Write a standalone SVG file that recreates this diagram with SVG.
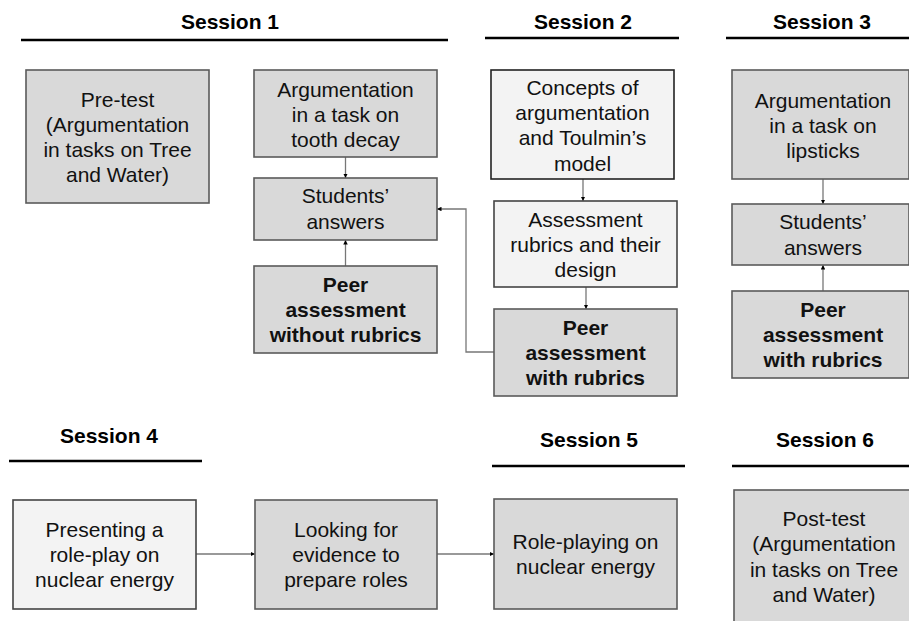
<svg xmlns="http://www.w3.org/2000/svg" width="909" height="621" viewBox="0 0 909 621">
<style>
.title{font-family:"Liberation Sans",Arial,sans-serif;font-size:21px;font-weight:bold;fill:#000;text-anchor:middle}
.t{font-family:"Liberation Sans",Arial,sans-serif;font-size:21px;fill:#111;text-anchor:middle}
.b{font-weight:bold}
.rule{stroke:#000;stroke-width:2.5}
.g{fill:#d9d9d9;stroke:#5a5a5a;stroke-width:1.6}
.l{fill:#f3f3f3;stroke:#444;stroke-width:1.6}
.c{fill:none;stroke:#777;stroke-width:1.3}
</style>
<defs>
<marker id="ah" viewBox="0 0 6 6" refX="6" refY="3" markerWidth="4.5" markerHeight="4.5" orient="auto" markerUnits="userSpaceOnUse">
<path d="M0,0 L6,3 L0,6 z" fill="#000"/>
</marker>
</defs>
<rect width="909" height="621" fill="#fff"/>
<g id="headers">
<text class="title" x="230" y="29">Session 1</text>
<line class="rule" x1="21" y1="40" x2="448" y2="40"/>
<text class="title" x="583" y="29">Session 2</text>
<line class="rule" x1="485" y1="38" x2="679" y2="38"/>
<text class="title" x="822" y="29">Session 3</text>
<line class="rule" x1="726" y1="38" x2="909" y2="38"/>
<text class="title" x="109" y="443">Session 4</text>
<line class="rule" x1="9" y1="461" x2="202" y2="461"/>
<text class="title" x="589" y="447">Session 5</text>
<line class="rule" x1="492" y1="466" x2="685" y2="466"/>
<text class="title" x="825" y="447">Session 6</text>
<line class="rule" x1="732" y1="466" x2="909" y2="466"/>
</g>
<g id="connectors">
<line class="c" x1="345.5" y1="157" x2="345.5" y2="178" marker-end="url(#ah)"/>
<line class="c" x1="345.5" y1="266" x2="345.5" y2="240" marker-end="url(#ah)"/>
<path class="c" d="M494,352 H466 V209 H437" marker-end="url(#ah)"/>
<line class="c" x1="583" y1="179" x2="583" y2="201" marker-end="url(#ah)"/>
<line class="c" x1="586" y1="287" x2="586" y2="309" marker-end="url(#ah)"/>
<line class="c" x1="823" y1="179" x2="823" y2="204" marker-end="url(#ah)"/>
<line class="c" x1="823" y1="291" x2="823" y2="265" marker-end="url(#ah)"/>
<line class="c" x1="196" y1="554" x2="255" y2="554" marker-end="url(#ah)"/>
<line class="c" x1="437" y1="554" x2="494" y2="554" marker-end="url(#ah)"/>
</g>
<g id="pretest">
<rect class="g" x="26" y="70" width="183" height="133"/>
<text class="t" x="117.5" y="107">Pre-test</text>
<text class="t" x="117.5" y="132">(Argumentation</text>
<text class="t" x="117.5" y="157">in tasks on Tree</text>
<text class="t" x="117.5" y="182">and Water)</text>
</g>
<g id="tooth">
<rect class="g" x="254" y="70" width="183" height="87"/>
<text class="t" x="345.5" y="97">Argumentation</text>
<text class="t" x="345.5" y="122">in a task on</text>
<text class="t" x="345.5" y="147">tooth decay</text>
</g>
<g id="answers1">
<rect class="g" x="254" y="178" width="183" height="62"/>
<text class="t" x="345.5" y="203">Students’</text>
<text class="t" x="345.5" y="229">answers</text>
</g>
<g id="peer1">
<rect class="g" x="254" y="266" width="183" height="87"/>
<text class="t b" x="345.5" y="292">Peer</text>
<text class="t b" x="345.5" y="317">assessment</text>
<text class="t b" x="345.5" y="342">without rubrics</text>
</g>
<g id="concepts">
<rect class="l" x="491" y="70" width="183" height="109" style="stroke:#222"/>
<text class="t" x="582.5" y="95">Concepts of</text>
<text class="t" x="582.5" y="120">argumentation</text>
<text class="t" x="582.5" y="145">and Toulmin’s</text>
<text class="t" x="582.5" y="171">model</text>
</g>
<g id="rubrics">
<rect class="l" x="494" y="201" width="183" height="86"/>
<text class="t" x="585.5" y="227">Assessment</text>
<text class="t" x="585.5" y="252">rubrics and their</text>
<text class="t" x="585.5" y="277">design</text>
</g>
<g id="peer2">
<rect class="g" x="494" y="309" width="183" height="87"/>
<text class="t b" x="585.5" y="335">Peer</text>
<text class="t b" x="585.5" y="360">assessment</text>
<text class="t b" x="585.5" y="385">with rubrics</text>
</g>
<g id="lipsticks">
<rect class="g" x="732" y="70" width="177" height="109"/>
<text class="t" x="823" y="108">Argumentation</text>
<text class="t" x="823" y="133">in a task on</text>
<text class="t" x="823" y="158">lipsticks</text>
</g>
<g id="answers3">
<rect class="g" x="732" y="204" width="177" height="61"/>
<text class="t" x="823" y="229">Students’</text>
<text class="t" x="823" y="255">answers</text>
</g>
<g id="peer3">
<rect class="g" x="732" y="291" width="177" height="87"/>
<text class="t b" x="823" y="317">Peer</text>
<text class="t b" x="823" y="342">assessment</text>
<text class="t b" x="823" y="367">with rubrics</text>
</g>
<g id="presenting">
<rect class="l" x="13" y="500" width="183" height="109"/>
<text class="t" x="104.5" y="537">Presenting a</text>
<text class="t" x="104.5" y="562">role-play on</text>
<text class="t" x="104.5" y="587">nuclear energy</text>
</g>
<g id="looking">
<rect class="g" x="255" y="500" width="182" height="109"/>
<text class="t" x="346" y="537">Looking for</text>
<text class="t" x="346" y="562">evidence to</text>
<text class="t" x="346" y="587">prepare roles</text>
</g>
<g id="roleplaying">
<rect class="g" x="494" y="499" width="183" height="110"/>
<text class="t" x="585.5" y="549">Role-playing on</text>
<text class="t" x="585.5" y="574">nuclear energy</text>
</g>
<g id="posttest">
<rect class="g" x="734" y="490" width="180" height="134"/>
<text class="t" x="824" y="526">Post-test</text>
<text class="t" x="824" y="551">(Argumentation</text>
<text class="t" x="824" y="577">in tasks on Tree</text>
<text class="t" x="824" y="602">and Water)</text>
</g>
</svg>
